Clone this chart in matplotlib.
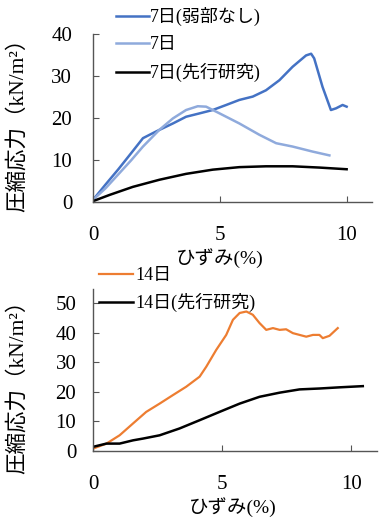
import matplotlib
matplotlib.use("Agg")
import matplotlib.pyplot as plt

plt.rcParams['font.family'] = ['Liberation Serif', 'Noto Sans CJK JP', 'DejaVu Sans']

# ---- top panel data (7 days) ----
x7_weak = [0, 0.5, 1.0, 1.5, 1.97, 2.49, 3.15, 3.67, 4.2, 4.72, 5.25, 5.77, 6.3, 6.82, 7.35, 7.87, 8.4, 8.6, 8.72, 9.05, 9.38, 9.58, 9.84, 10.0]
y7_weak = [0.5, 4.2, 7.8, 11.6, 15.2, 16.8, 18.7, 20.3, 21.1, 21.9, 23.1, 24.3, 25.1, 26.6, 29.0, 32.2, 34.9, 35.3, 34.2, 27.4, 21.9, 22.3, 23.1, 22.7]
x7 = [0, 0.5, 1.0, 1.5, 1.97, 2.62, 3.15, 3.67, 4.13, 4.46, 4.99, 5.77, 6.56, 7.22, 7.87, 8.66, 9.32]
y7 = [0.5, 3.3, 6.6, 9.9, 13.2, 17.2, 19.9, 21.9, 22.8, 22.7, 21.1, 18.7, 16.0, 14.0, 13.2, 12.0, 11.1]
x7_prev = [0, 0.66, 1.57, 2.62, 3.67, 4.72, 5.77, 6.82, 7.87, 8.92, 10.0]
y7_prev = [0.2, 1.7, 3.6, 5.3, 6.7, 7.7, 8.3, 8.5, 8.5, 8.2, 7.8]

# ---- bottom panel data (14 days) ----
x14 = [0, 0.52, 1.03, 1.55, 2.06, 2.58, 3.1, 3.61, 4.13, 4.39, 4.77, 5.16, 5.42, 5.68, 5.94, 6.19, 6.45, 6.71, 6.97, 7.23, 7.48, 7.74, 8.0, 8.26, 8.52, 8.77, 8.9, 9.16, 9.48]
y14 = [0.8, 2.5, 5.3, 9.3, 13.2, 16.0, 18.9, 21.7, 25.1, 28.5, 34.1, 39.2, 44.3, 46.6, 47.1, 46.0, 43.2, 40.9, 41.5, 40.9, 41.1, 39.8, 39.2, 38.6, 39.2, 39.2, 38.1, 38.9, 41.5]
x14_prev = [0, 0.52, 1.03, 1.55, 1.94, 2.58, 3.35, 4.13, 4.9, 5.68, 6.45, 7.23, 8.0, 8.77, 9.55, 10.45]
y14_prev = [1.4, 2.5, 2.5, 3.6, 4.2, 5.3, 7.6, 10.4, 13.2, 16.0, 18.3, 19.7, 20.8, 21.1, 21.5, 21.9]

labels_top = ['7日(弱部なし)', '7日', '7日(先行研究)']
labels_bot = ['14日', '14日(先行研究)']
xticks = [0, 5, 10]
yticks_top = [0, 10, 20, 30, 40]
yticks_bot = [0, 10, 20, 30, 40, 50]

W, H = 379, 517
fig = plt.figure(figsize=(W / 100, H / 100), dpi=100)

ax1 = fig.add_axes([93 / W, 1 - 202 / H, (372 - 93) / W, (202 - 34) / H])
ax2 = fig.add_axes([93 / W, 1 - 451 / H, (377 - 93) / W, (451 - 289) / H])

c_dark = '#4472C4'
c_light = '#8FAADC'
c_orange = '#ED7D31'

l1, = ax1.plot(x7_weak, y7_weak, color=c_dark, lw=1.8)
l2, = ax1.plot(x7, y7, color=c_light, lw=1.8)
l3, = ax1.plot(x7_prev, y7_prev, color='black', lw=1.8)
ax1.set_xlim(0, 11)
ax1.set_ylim(0, 40)
ax1.set_yticks(yticks_top)

m1, = ax2.plot(x14, y14, color=c_orange, lw=1.6)
m2, = ax2.plot(x14_prev, y14_prev, color='black', lw=1.8)
ax2.set_xlim(0, 11)
ax2.set_ylim(0, 54.7)
ax2.set_yticks(yticks_bot)

for ax, ylc, ypad in ((ax1, (-0.233, 0.49), 15), (ax2, (-0.229, 0.43), 12)):
    ax.set_xticks(xticks)
    ax.spines['top'].set_visible(False)
    ax.spines['right'].set_visible(False)
    for s in ('left', 'bottom'):
        ax.spines[s].set_color('#555555')
        ax.spines[s].set_linewidth(1.0)
    ax.tick_params(direction='in', length=4, color='#555555', labelsize=15)
    ax.tick_params(axis='x', pad=17)
    ax.tick_params(axis='y', pad=ypad)
    ax.set_ylabel('圧縮応力（kN/m²）', fontsize=15.5)
    ax.yaxis.set_label_coords(*ylc)

ax1.set_xlabel('ひずみ(%)', fontsize=14)
ax1.xaxis.set_label_coords(0.455, -0.272)
ax2.set_xlabel('ひずみ(%)', fontsize=14)
ax2.xaxis.set_label_coords(0.493, -0.285)

fig.legend([l1, l2, l3], labels_top, loc='upper left', bbox_to_anchor=(116 / W, 1 - 7 / H),
           frameon=False, fontsize=13, handlelength=1.8, handletextpad=0.1,
           labelspacing=0.55, borderpad=0, borderaxespad=0)
fig.legend([m1, m2], labels_bot, loc='upper left', bbox_to_anchor=(99 / W, 1 - 267 / H),
           frameon=False, fontsize=13, handlelength=1.9, handletextpad=0.1,
           labelspacing=0.5, borderpad=0, borderaxespad=0)

fig.savefig('out.png', dpi=100)
